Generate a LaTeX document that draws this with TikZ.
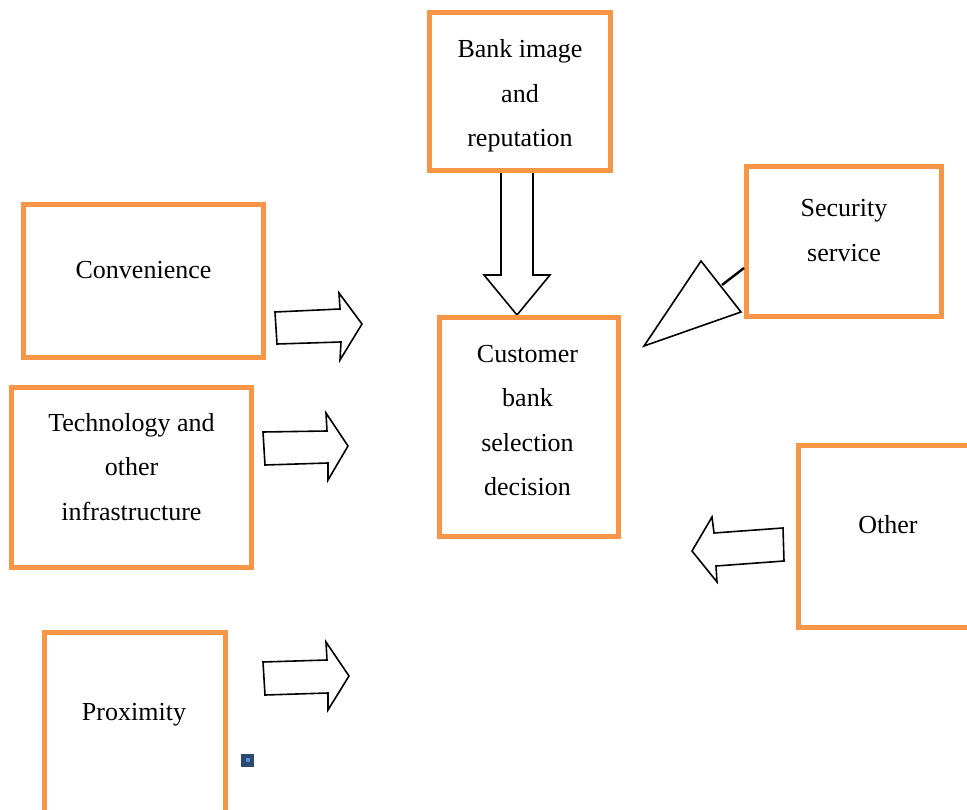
\documentclass[tikz,border=0pt]{standalone}
\usepackage{fontspec}
\setmainfont{Liberation Serif}
\definecolor{boxorange}{HTML}{F79646}
\definecolor{navy}{HTML}{2B4A73}
\definecolor{lightblue}{HTML}{5B8BD0}
\tikzset{
  obox/.style={draw=boxorange, line width=5pt, fill=white, inner sep=0pt},
  otext/.style={font=\fontsize{26}{44.5}\selectfont, align=center, inner sep=0pt},
  barrow/.style={draw=black, line width=1.6pt, fill=white, line join=miter},
}
\begin{document}
\begin{tikzpicture}[x=1pt,y=-1pt]
\useasboundingbox (0,0) rectangle (967,810);
\clip (0,0) rectangle (967,810);
\fill[white] (0,0) rectangle (967,810);

% block arrows
\draw[barrow] (501,165) -- (501,275) -- (484,275) -- (517,315) -- (550,275) -- (533,275) -- (533,165) -- cycle;
\draw[barrow] (277,344) -- (275,312) -- (340,309) -- (339,293) -- (362,324) -- (340,360) -- (341,342) -- cycle;
\draw[barrow] (265,465) -- (263,432) -- (327,431) -- (326,413) -- (348,446) -- (328,480) -- (328,463) -- cycle;
\draw[barrow] (265,695) -- (263,662) -- (327,660) -- (326,642) -- (349,676) -- (328,710) -- (328,693) -- cycle;
\draw[barrow] (783,528) -- (714,533) -- (712,517) -- (692,551) -- (717,582) -- (716,566) -- (784,561) -- cycle;

% security triangle
\coordinate (secstem) at (722,285);
\draw[barrow] (701,261) -- (741,312) -- (644,346) -- cycle;

% boxes
\node[obox, minimum width=181pt, minimum height=158pt] (bank) at (520,91.5) {};
\node[obox, minimum width=239.5pt, minimum height=153pt] (conv) at (143.25,281.5) {};
\node[obox, minimum width=240pt, minimum height=179.5pt] (tech) at (131.5,477.25) {};
\node[obox, minimum width=180.5pt, minimum height=197.5pt] (prox) at (134.75,731.25) {};
\node[obox, minimum width=179pt, minimum height=218.5pt] (cust) at (529,426.75) {};
\node[obox, minimum width=195pt, minimum height=150pt] (sec) at (844,241.5) {};
\node[obox, minimum width=191.5pt, minimum height=182.5pt] (other) at (894.25,536.25) {};

\draw[line width=2.4pt] (secstem) -- (sec.west |- 0,268);

% texts
\node[otext] (tbank) at (520,93.3) {\strut Bank image\\\strut and\\\strut reputation};
\node[otext] (tconv) at (143.5,270) {\strut Convenience};
\node[otext] (ttech) at (131.5,467) {\strut Technology and\\\strut other\\\strut infrastructure};
\node[otext] (tprox) at (134,711.5) {\strut Proximity};
\node[otext] (tcust) at (527.5,420.3) {\strut Customer\\\strut bank\\\strut selection\\\strut decision};
\node[otext] (tsec) at (844,230) {\strut Security\\\strut service};
\node[otext] (tother) at (888,524.5) {\strut Other};

% small marker
\node[fill=navy, minimum size=13pt, inner sep=0pt] (mark) at (247.5,760) {};
\node[fill=lightblue, minimum size=4pt, inner sep=0pt] (markin) at (mark.center) {};
\end{tikzpicture}
\end{document}
